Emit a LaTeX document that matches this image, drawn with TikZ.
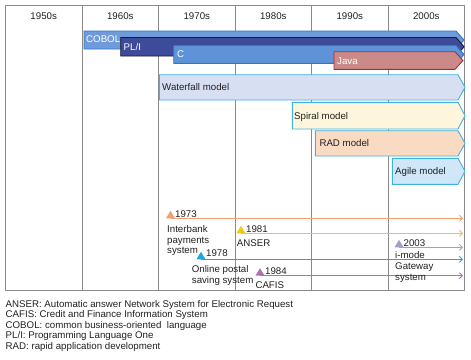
\documentclass[tikz,border=0pt]{standalone}
\usepackage{fontspec}
\setmainfont{Liberation Sans}
\usetikzlibrary{arrows.meta}
\definecolor{gridc}{HTML}{8A8A8A}
\definecolor{txt}{HTML}{231F20}
\definecolor{cobolf}{HTML}{6F9BDA}
\definecolor{cobold}{HTML}{2F74CF}
\definecolor{plif}{HTML}{3E4A9A}
\definecolor{plid}{HTML}{1A1A2A}
\definecolor{cf}{HTML}{5F93D8}
\definecolor{cd}{HTML}{2C76D2}
\definecolor{javaf}{HTML}{C98A88}
\definecolor{javad}{HTML}{B0283A}
\definecolor{modeld}{HTML}{3FB2E4}
\definecolor{waterf}{HTML}{D6E0F2}
\definecolor{spiralf}{HTML}{FDF6DC}
\definecolor{radf}{HTML}{F9DAC2}
\definecolor{agilef}{HTML}{CFE7F8}
\definecolor{orangel}{HTML}{F2A16E}
\definecolor{yellowl}{HTML}{F2C81A}
\definecolor{lavl}{HTML}{A99DCB}
\definecolor{bluel}{HTML}{1EA7E1}
\definecolor{purpl}{HTML}{B36DB3}
\newcommand{\tlbar}[6]{%
  \path[#6] (#1,#2) -- ({#4-#5},#2) -- (#4,{(#2+#3)/2}) -- ({#4-#5},#3) -- (#1,#3) -- cycle;}
\newcommand{\tlmark}[4]{%
  \coordinate (#1) at (#2,#3);
  \fill[#4] ([xshift=-4.5bp]#1) -- ([xshift=4.5bp]#1) -- ([yshift=7.5bp]#1) -- cycle;}
\begin{document}
\begin{tikzpicture}[x=1bp,y=-1bp,
  every node/.style={font={\fontsize{9.7bp}{11bp}\selectfont}},
  lbl/.style={anchor=base west, inner sep=0pt, text=txt},
  wlbl/.style={anchor=base west, inner sep=0pt, text=white},
  hdr/.style={anchor=base, inner sep=0pt, text=txt},
  grid/.style={draw=gridc, line width=0.8bp},
  tl/.style={line width=0.9bp, -{Straight Barb[length=3bp,width=6bp]}},
  model/.style={draw=modeld, line width=0.9bp, line join=miter}]
\useasboundingbox (0,0) rectangle (471,359);
% grid
\draw[grid] (5.5,5) rectangle (464.5,290.5);
\foreach \gx in {82,158.5,235,311.5,388} \draw[grid] (\gx,5) -- (\gx,290.5);
% headers
\node[hdr] (h50) at (43.7,19.5) {1950s};
\node[hdr] (h60) at (120.3,19.5) {1960s};
\node[hdr] (h70) at (196.8,19.5) {1970s};
\node[hdr] (h80) at (273.3,19.5) {1980s};
\node[hdr] (h90) at (349.8,19.5) {1990s};
\node[hdr] (h00) at (426.3,19.5) {2000s};
% language bars
\tlbar{84}{31}{49}{464}{8}{fill=cobolf, draw=cobold, line width=0.9bp}
\tlbar{120.7}{37.5}{56}{464}{8}{fill=plif, draw=plid, line width=0.9bp}
\tlbar{173.7}{45.5}{63.3}{464}{8}{fill=cf, draw=cd, line width=0.9bp}
\tlbar{334}{51.7}{69.3}{463}{8}{fill=javaf, draw=javad, line width=0.9bp}
\node[wlbl] (cobol) at (86,42.8) {COBOL};
\node[wlbl] (pli) at (123.5,50.2) {PL/I};
\node[wlbl] (clang) at (177,57.5) {C};
\node[wlbl] (java) at (337,64.5) {Java};
% process models
\tlbar{159.3}{74.7}{100}{465}{7}{model, fill=waterf}
\tlbar{292.3}{102.3}{129}{465}{7}{model, fill=spiralf}
\tlbar{315.3}{130.7}{156}{465}{7}{model, fill=radf}
\tlbar{392.3}{158.3}{184.3}{465}{7}{model, fill=agilef}
\node[lbl] (waterfall) at (162,90.8) {Waterfall model};
\node[lbl] (spiral) at (294,119.2) {Spiral model};
\node[lbl] (rad) at (319.3,146.8) {RAD model};
\node[lbl] (agile) at (395,174.8) {Agile model};
% systems timeline
\coordinate (e1973) at (463,218.3);
\coordinate (e1981) at (463,233.3);
\coordinate (e2003) at (463,247.3);
\coordinate (e1978) at (463,259.3);
\coordinate (e1984) at (463,275.7);
\coordinate (s1973) at (170.5,218.3);
\coordinate (s1981) at (241,233.3);
\coordinate (s2003) at (399,247.3);
\coordinate (s1978) at (201,259.3);
\coordinate (s1984) at (260,275.7);
\draw[tl, orangel] (s1973) -- (e1973);
\draw[tl, yellowl] (s1981) -- (e1981);
\draw[tl, lavl] (s2003) -- (e2003);
\draw[tl, bluel] (s1978) -- (e1978);
\draw[tl, purpl] (s1984) -- (e1984);
\tlmark{t1973}{170.5}{218.3}{orangel}
\tlmark{t1981}{241}{233.3}{yellowl}
\tlmark{t2003}{399}{247.3}{lavl}
\tlmark{t1978}{201}{259.3}{bluel}
\tlmark{t1984}{260}{275.7}{purpl}
\node[lbl] (y1973) at (175,217.8) {1973};
\node[lbl] (n1973a) at (167,232.8) {Interbank};
\node[lbl] (n1973b) at (167,243.2) {payments};
\node[lbl] (n1973c) at (167,253.6) {system};
\node[lbl] (y1981) at (246,232.2) {1981};
\node[lbl] (n1981) at (236.7,246.8) {ANSER};
\node[lbl] (y2003) at (403.5,246.2) {2003};
\node[lbl] (n2003a) at (395,258.5) {i-mode};
\node[lbl] (n2003b) at (395,269.5) {Gateway};
\node[lbl] (n2003c) at (395,280.5) {system};
\node[lbl] (y1978) at (206,256.8) {1978};
\node[lbl] (n1978a) at (191.7,272.5) {Online postal};
\node[lbl] (n1978b) at (191.7,283.5) {saving system};
\node[lbl] (y1984) at (265,274.2) {1984};
\node[lbl] (n1984) at (255.3,288.5) {CAFIS};
% legend
\node[lbl] (lg1) at (5.5,307.5) {ANSER: Automatic answer Network System for Electronic Request};
\node[lbl] (lg2) at (5.5,317.8) {CAFIS: Credit and Finance Information System};
\node[lbl] (lg3) at (5.5,328.5) {COBOL: common business-oriented~ language};
\node[lbl] (lg4) at (5.5,338.8) {PL/I: Programming Language One};
\node[lbl] (lg5) at (5.5,349.2) {RAD: rapid application development};
\end{tikzpicture}
\end{document}
